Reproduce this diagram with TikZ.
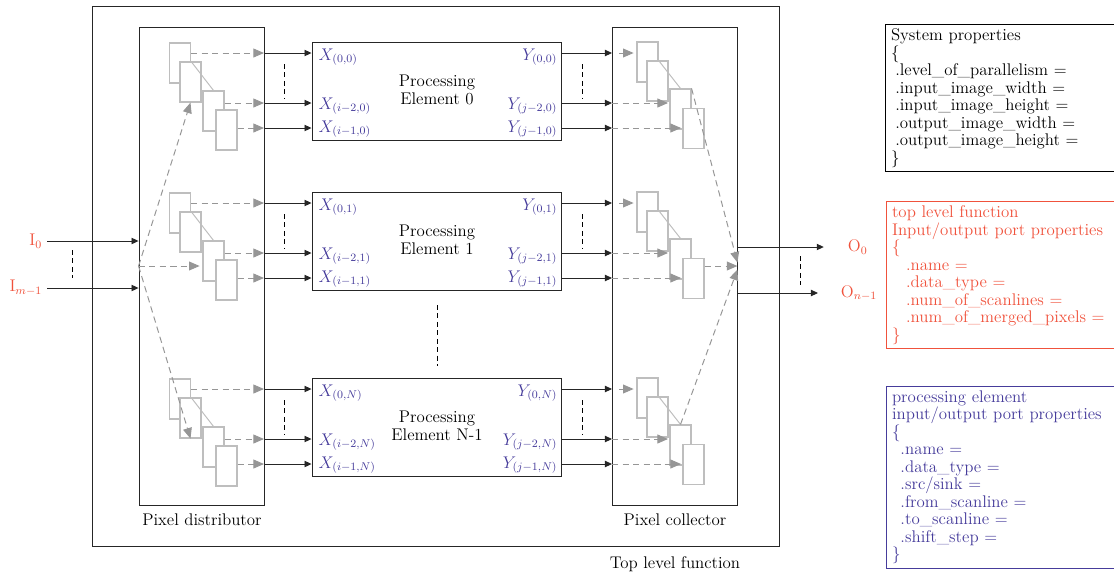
\documentclass[tikz,border=0pt]{standalone}
\usepackage{fontspec}
\usetikzlibrary{arrows.meta}
\definecolor{peblue}{RGB}{70,60,155}
\definecolor{topred}{RGB}{240,82,60}
\definecolor{pixgray}{RGB}{190,190,190}
\definecolor{dashgray}{RGB}{150,150,150}

\begin{document}
\begin{tikzpicture}[x=0.025cm,y=-0.025cm,
		font=\fontsize{12}{12.45}\selectfont,
		box/.style={draw=black!85,line width=0.6pt,inner sep=0},
		pix/.style={draw=pixgray,line width=0.8pt,fill=white,minimum width=0.525cm,minimum height=1cm,inner sep=0},
		arr/.style={black!85,line width=0.65pt,-{Triangle[length=5pt,width=4.5pt]}},
		garr/.style={dashgray,line width=0.7pt,dash pattern=on 4.5pt off 3pt,-{Triangle[length=7.5pt,width=6.3pt]}},
		diag/.style={pixgray,line width=0.7pt},
		vdots/.style={line width=0.65pt,dash pattern=on 3.5pt off 2.5pt},
		port/.style={text=peblue,inner sep=1pt},
		propbox/.style={draw,line width=0.6pt,anchor=north west,text width=6.2cm,align=left,inner xsep=4pt,inner ysep=3pt}]
			\useasboundingbox (0,0) rectangle (1114,575);

			% Main blocks
			\node[box,minimum width=17.15cm,minimum height=13.5cm] (top) at (436,276) {};
			\node[box,minimum width=3.125cm,minimum height=11.95cm] (dist) at (201.5,266) {};
			\node[box,minimum width=3.125cm,minimum height=11.95cm] (coll) at (674.5,266) {};
			\node (distlbl) at (202,520) {Pixel distributor};
			\node (colllbl) at (675,520) {Pixel collector};
			\node (toplbl) at (675,564) {Top level function};

			% Processing elements with their pixel buffers
			\foreach \o/\r/\k/\name in {42/0/0/0,192/1/1/1,378/2/N/N-1}{
				\node[box,minimum width=6.225cm,minimum height=2.45cm] (pe\r) at (436.5,\o+49) {};
				\node[align=center] (pename\r) at (437,\o+48) {Processing\\Element \name};
				\node[port,anchor=west] (xa\r) at (317,\o+15) {$X_{(0,\k)}$};
				\node[port,anchor=west] (xb\r) at (317,\o+64) {$X_{(i-2,\k)}$};
				\node[port,anchor=west] (xc\r) at (317,\o+87) {$X_{(i-1,\k)}$};
				\node[port,anchor=east] (ya\r) at (559,\o+15) {$Y_{(0,\k)}$};
				\node[port,anchor=east] (yb\r) at (559,\o+64) {$Y_{(j-2,\k)}$};
				\node[port,anchor=east] (yc\r) at (559,\o+87) {$Y_{(j-1,\k)}$};

				% distributor side
				\node[pix] (da\r) at (180,\o+21) {};
				\node[pix] (db\r) at (190.5,\o+40) {};
				\node[pix] (dc\r) at (213.5,\o+69) {};
				\node[pix] (dd\r) at (226.5,\o+88) {};
				\draw[diag] (da\r.east |- db\r.north) -- (dc\r.north);
				\coordinate (ina\r) at (264,\o+11);
				\coordinate (inb\r) at (264,\o+61);
				\coordinate (inc\r) at (264,\o+86);
				\draw[garr] (da\r.east |- ina\r) -- (ina\r);
				\draw[garr] (dc\r.east |- inb\r) -- (inb\r);
				\draw[garr] (dd\r.east |- inc\r) -- (inc\r);
				\draw[arr] (ina\r) -- (ina\r -| pe\r.west);
				\draw[arr] (inb\r) -- (inb\r -| pe\r.west);
				\draw[arr] (inc\r) -- (inc\r -| pe\r.west);
				\draw[vdots] (284,\o+22) -- (284,\o+56);

				% collector side
				\node[pix] (ca\r) at (647.5,\o+20) {};
				\node[pix] (cb\r) at (657.5,\o+39) {};
				\node[pix] (cc\r) at (680.5,\o+67) {};
				\node[pix] (cd\r) at (693.5,\o+86.5) {};
				\draw[diag] (ca\r.east |- cb\r.north) -- (cc\r.north);
				\coordinate (outa\r) at (612,\o+11);
				\coordinate (outb\r) at (612,\o+61);
				\coordinate (outc\r) at (612,\o+86);
				\draw[arr] (outa\r -| pe\r.east) -- (outa\r);
				\draw[arr] (outb\r -| pe\r.east) -- (outb\r);
				\draw[arr] (outc\r -| pe\r.east) -- (outc\r);
				\draw[garr,shorten <=5pt,shorten >=2pt] (outa\r) -- (ca\r.west |- outa\r);
				\draw[garr,shorten >=1pt] (outb\r) -- (cc\r.west |- outb\r);
				\draw[garr,shorten >=1pt] (outc\r) -- (cd\r.west |- outc\r);
				\draw[vdots] (582,\o+22) -- (582,\o+56);
			}
			\draw[vdots] (437,305) -- (437,366);

			% Fan out / fan in
			\draw[garr] (dist.west) -- (db0.south);
			\draw[garr,shorten >=2pt] (dist.west) -- (dist.west -| dc1.west);
			\draw[garr] (dist.west) -- (db2.south);
			\draw[garr] (cc0.north east) -- ([yshift=2.5pt]coll.east);
			\draw[garr] (cd1.east |- coll.east) -- (coll.east);
			\draw[garr] (cc2.north) -- ([yshift=-2.5pt]coll.east);

			% Inputs and outputs
			\node[text=topred,anchor=east] (in0) at (47,241) {I$_0$};
			\node[text=topred,anchor=east] (inm) at (47,288) {I$_{m-1}$};
			\draw[arr] (in0.east) -- (in0.east -| dist.west);
			\draw[arr] (inm.east) -- (inm.east -| dist.west);
			\draw[vdots] (72,250) -- (72,278);
			\node[text=topred,anchor=west] (out0) at (843,247) {O$_0$};
			\node[text=topred,anchor=west] (outn) at (836,293) {O$_{n-1}$};
			\draw[arr,shorten >=0.48cm] (coll.east |- out0) -- (out0.west);
			\draw[arr,shorten >=0.45cm] (coll.east |- outn) -- (outn.west);
			\draw[vdots] (800,256) -- (800,285);

			% Property lists
			\node[propbox] (sysprop) at (885,24) {System properties\\\{\\
				\hspace*{3pt}.level\_of\_parallelism =\\
				\hspace*{3pt}.input\_image\_width =\\
				\hspace*{3pt}.input\_image\_height =\\
				\hspace*{3pt}.output\_image\_width =\\
				\hspace*{3pt}.output\_image\_height =\\\}};
			\node[propbox,draw=topred,text=topred] (topprop) at (886,201) {top level function\\Input/output port properties\\\{\\
				\hspace*{10pt}.name =\\
				\hspace*{10pt}.data\_type =\\
				\hspace*{10pt}.num\_of\_scanlines =\\
				\hspace*{10pt}.num\_of\_merged\_pixels =\\\}};
			\node[propbox,draw=peblue,text=peblue] (peprop) at (886,386) {processing element\\input/output port properties\\\{\\
				\hspace*{6pt}.name =\\
				\hspace*{6pt}.data\_type =\\
				\hspace*{6pt}.src/sink =\\
				\hspace*{6pt}.from\_scanline =\\
				\hspace*{6pt}.to\_scanline =\\
				\hspace*{6pt}.shift\_step =\\\}};
		\end{tikzpicture}
\end{document}
